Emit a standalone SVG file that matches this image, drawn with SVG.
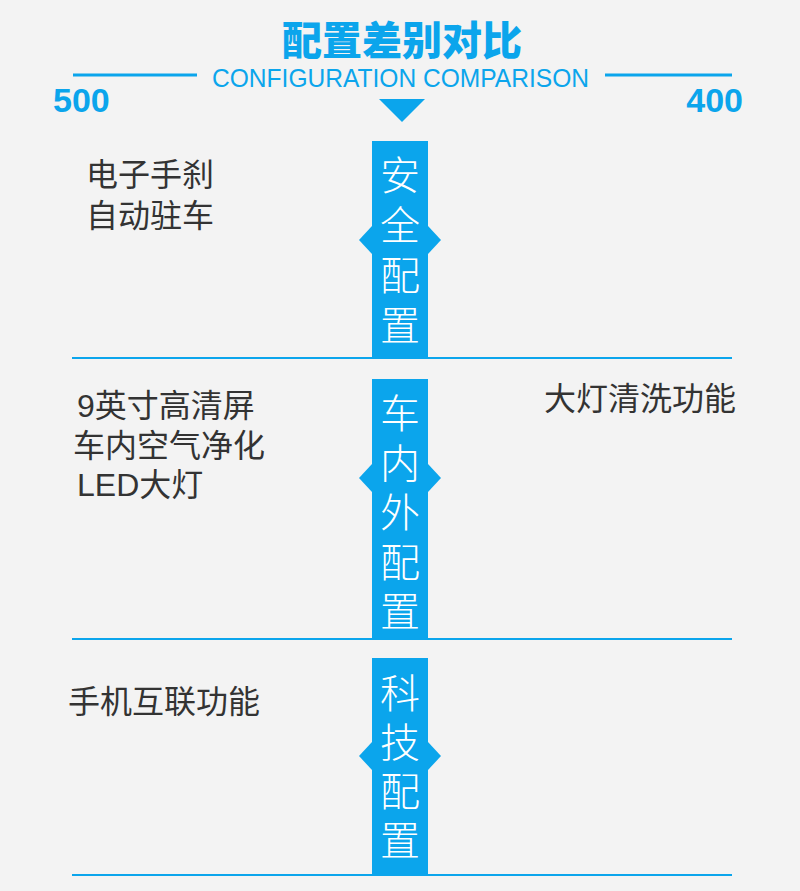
<svg xmlns="http://www.w3.org/2000/svg" width="800" height="891" viewBox="0 0 800 891">
<style>
.bg{fill:#f3f3f3}
.blue{fill:#0ba5ec}
.rule{stroke:#0ba5ec;stroke-width:2;fill:none}
.hline{stroke:#0ba5ec;stroke-width:3;fill:none}
.title{font-family:"Noto Sans CJK SC","Noto Sans",sans-serif;font-weight:900;font-size:40px;fill:#0ba5ec}
.sub{font-family:"Liberation Sans","Noto Sans",sans-serif;font-size:25px;fill:#0ba5ec}
.num{font-family:"Liberation Sans","Noto Sans",sans-serif;font-weight:700;font-size:34px;fill:#0ba5ec}
.item{font-family:"Liberation Sans","Noto Sans CJK SC",sans-serif;font-size:32px;fill:#333333}
.bar{font-family:"Noto Sans CJK SC","Noto Sans",sans-serif;font-weight:300;font-size:40px;fill:#ffffff;writing-mode:vertical-rl}
</style>
<rect class="bg" x="0" y="0" width="800" height="891"/>

<g id="header">
  <text class="title" x="402" y="55" text-anchor="middle">配置差别对比</text>
  <line class="hline" x1="73" y1="75" x2="197" y2="75"/>
  <line class="hline" x1="605" y1="75" x2="732" y2="75"/>
  <text class="sub" x="400.5" y="87" text-anchor="middle" textLength="377" lengthAdjust="spacingAndGlyphs">CONFIGURATION COMPARISON</text>
  <text class="num" x="53" y="112">500</text>
  <text class="num" x="743" y="112" text-anchor="end">400</text>
  <polygon class="blue" points="379,99 425,99 402,122"/>
</g>

<g id="connectors">
  <line class="rule" x1="72" y1="358" x2="732" y2="358"/>
  <line class="rule" x1="72" y1="639" x2="732" y2="639"/>
  <line class="rule" x1="72" y1="875" x2="732" y2="875"/>
</g>

<g id="safety">
  <rect class="blue" x="372" y="141" width="56" height="217"/>
  <polygon class="blue" points="372,226 359,240 372,254"/>
  <polygon class="blue" points="428,226 441,240 428,254"/>
  <text class="bar" x="400" y="155" letter-spacing="10">安全配置</text>
</g>
<g id="safety-500">
  <text class="item" x="86" y="186">电子手刹</text>
  <text class="item" x="86" y="227">自动驻车</text>
</g>

<g id="interior">
  <rect class="blue" x="372" y="379" width="56" height="260"/>
  <polygon class="blue" points="372,464 359,478 372,492"/>
  <polygon class="blue" points="428,464 441,478 428,492"/>
  <text class="bar" x="400" y="393" letter-spacing="9.5">车内外配置</text>
</g>
<g id="interior-500">
  <text class="item" x="77" y="417">9英寸高清屏</text>
  <text class="item" x="73" y="456.5">车内空气净化</text>
  <text class="item" x="77" y="496">LED大灯</text>
</g>
<g id="interior-400">
  <text class="item" x="544" y="410">大灯清洗功能</text>
</g>

<g id="tech">
  <rect class="blue" x="372" y="658" width="56" height="217"/>
  <polygon class="blue" points="372,742 359,756 372,770"/>
  <polygon class="blue" points="428,742 441,756 428,770"/>
  <text class="bar" x="400" y="673" letter-spacing="9">科技配置</text>
</g>
<g id="tech-500">
  <text class="item" x="68" y="713">手机互联功能</text>
</g>
</svg>
